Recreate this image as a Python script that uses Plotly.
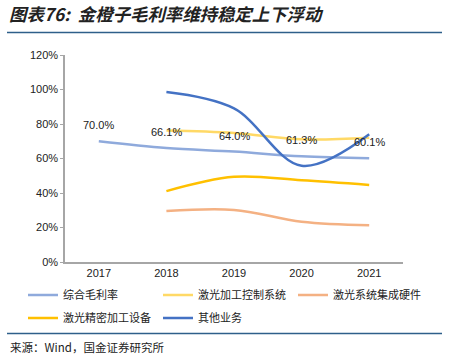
import plotly.graph_objects as go

years = ["2017", "2018", "2019", "2020", "2021"]
overall = [0.700, 0.661, 0.640, 0.613, 0.601]
control_sys = [None, 0.762, 0.748, 0.711, 0.720]
integration_hw = [None, 0.295, 0.302, 0.233, 0.213]
precision_eq = [None, 0.411, 0.494, 0.474, 0.447]
other_biz = [None, 0.985, 0.890, 0.558, 0.740]

names = ["综合毛利率", "激光加工控制系统", "激光系统集成硬件", "激光精密加工设备", "其他业务"]
colors = ["#8FAADC", "#FFD966", "#F4B183", "#FFC000", "#4472C4"]
series = [overall, control_sys, integration_hw, precision_eq, other_biz]
legend_ids = ["legend", "legend", "legend", "legend2", "legend2"]

L, R, T, B = 65, 46, 55, 94
W, H = 449, 356
pw, ph = W - L - R, H - T - B

def px_x(p):
    return (p - L) / pw

def px_y(p):
    return (H - B - p) / ph

fig = go.Figure()
for name, col, vals, lg in zip(names, colors, series, legend_ids):
    fig.add_trace(go.Scatter(
        x=years, y=vals, name=name, mode="lines", legend=lg,
        line=dict(color=col, width=2.5, shape="spline", smoothing=1.0),
        connectgaps=False, hoverinfo="skip",
    ))

annotations = []
for i, v in enumerate(overall):
    annotations.append(dict(
        x=i, y=v, xref="x", yref="y", text=f"{v*100:.1f}%", showarrow=False,
        yshift=16, font=dict(size=11, color="#222222", family="Arial, Liberation Sans, sans-serif"),
    ))

annotations.append(dict(
    x=px_x(7), y=px_y(13), xref="paper", yref="paper", text="<b><i>图表76:  金橙子毛利率维持稳定上下浮动</i></b>",
    showarrow=False, xanchor="left", yanchor="middle",
    font=dict(size=17.4, color="#222222", family="Noto Sans CJK SC, sans-serif"),
))
annotations.append(dict(
    x=px_x(9), y=px_y(346.5), xref="paper", yref="paper", text="来源：Wind，国金证券研究所",
    showarrow=False, xanchor="left", yanchor="middle", borderpad=0,
    font=dict(size=11.5, color="#222222", family="Noto Sans CJK SC, sans-serif"),
))

shapes = [
    dict(type="line", xref="paper", yref="paper", x0=px_x(7), x1=px_x(442), y0=px_y(32.5), y1=px_y(32.5),
         line=dict(color="#2E5F8A", width=1.6), layer="above"),
    dict(type="line", xref="paper", yref="paper", x0=px_x(7), x1=px_x(442), y0=px_y(333.5), y1=px_y(333.5),
         line=dict(color="#2E5F8A", width=1.4), layer="above"),
]

legend_common = dict(
    orientation="h", xanchor="left", yanchor="middle",
    entrywidth=90, entrywidthmode="pixels",
    font=dict(size=11, family="Noto Sans CJK SC, sans-serif", color="#222222"),
    bgcolor="rgba(0,0,0,0)", itemwidth=30,
)

fig.update_layout(
    width=W, height=H,
    margin=dict(l=L, r=R, t=T, b=B),
    paper_bgcolor="white", plot_bgcolor="white",
    font=dict(family="Arial, Liberation Sans, sans-serif", size=11, color="#222222"),
    showlegend=True,
    legend=dict(legend_common, x=px_x(23), y=px_y(295)),
    legend2=dict(legend_common, x=px_x(23), y=px_y(318)),
    xaxis=dict(
        type="category", showgrid=False, showline=True, linecolor="#A6A6A6", linewidth=1.5,
        ticks="", tickfont=dict(size=11), range=[-0.5, 4.5],
    ),
    yaxis=dict(
        range=[0, 1.2], dtick=0.2, tickformat=".0%", showgrid=False, showline=True,
        linecolor="#A6A6A6", linewidth=1.5, ticks="outside", ticklen=3, tickcolor="#A6A6A6",
        tickfont=dict(size=11), zeroline=False,
    ),
    annotations=annotations, shapes=shapes,
)

fig.write_html(
    "out.html",
    config={"displayModeBar": False},
    post_script="document.body.style.margin='0';document.body.style.padding='0';",
)
